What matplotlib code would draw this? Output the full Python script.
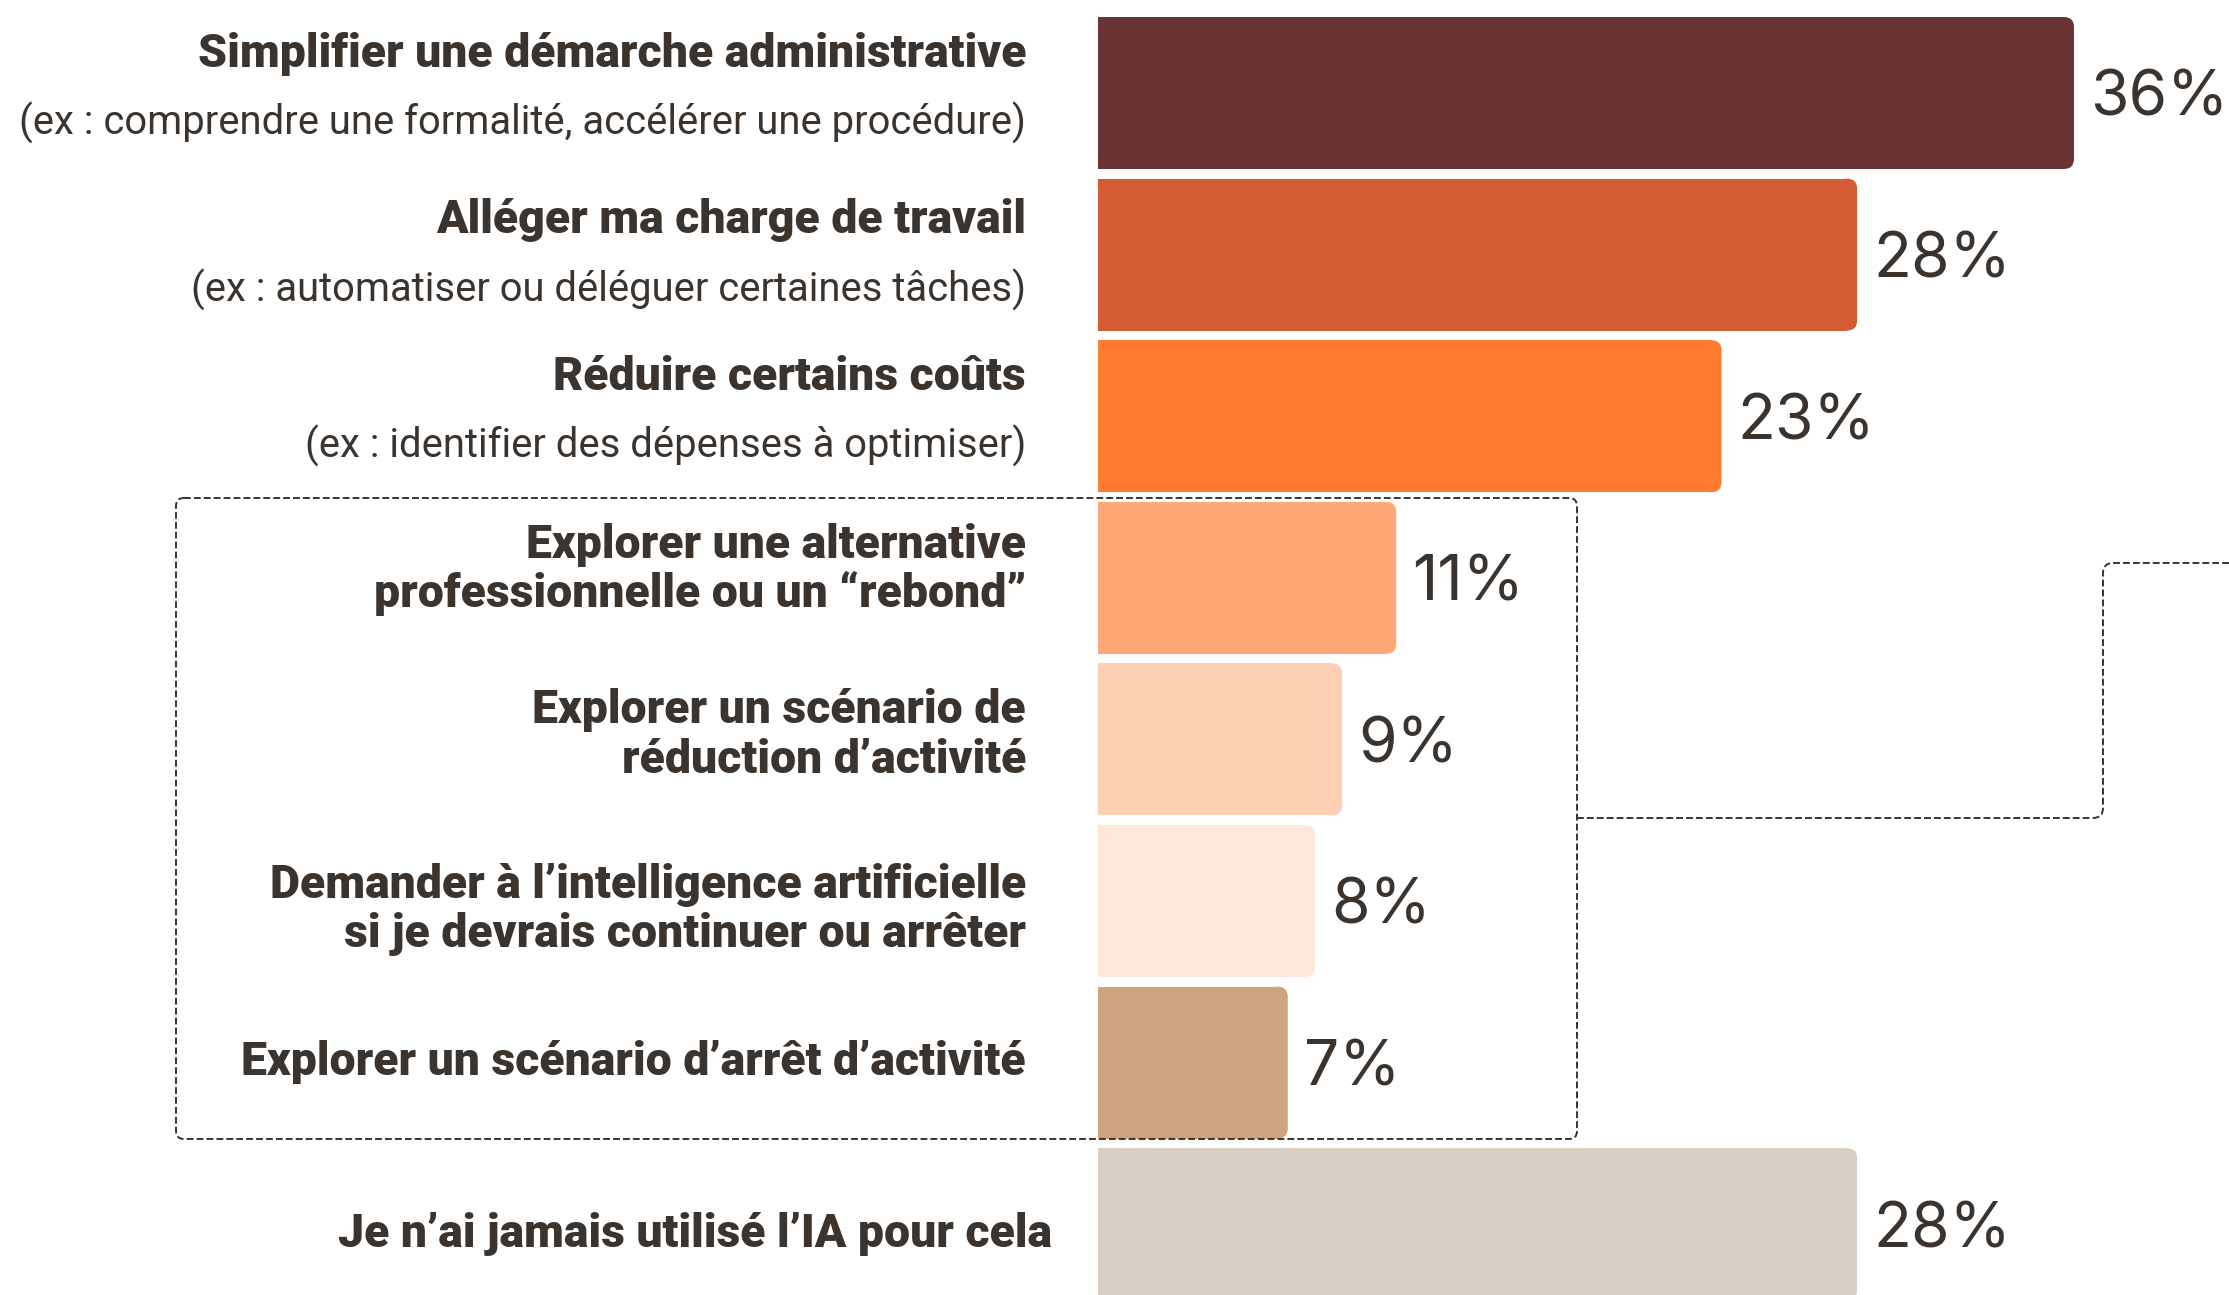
import matplotlib.pyplot as plt
from matplotlib import font_manager as fm
from matplotlib.patches import FancyBboxPatch, PathPatch
from matplotlib.path import Path

# Data
labels = [
    ["Simplifier une démarche administrative"],
    ["Alléger ma charge de travail"],
    ["Réduire certains coûts"],
    ["Explorer une alternative", "professionnelle ou un “rebond”"],
    ["Explorer un scénario de", "réduction d’activité"],
    ["Demander à l’intelligence artificielle", "si je devrais continuer ou arrêter"],
    ["Explorer un scénario d’arrêt d’activité"],
    ["Je n’ai jamais utilisé l’IA pour cela"],
]
sublabels = [
    "(ex : comprendre une formalité, accélérer une procédure)",
    "(ex : automatiser ou déléguer certaines tâches)",
    "(ex : identifier des dépenses à optimiser)",
    None, None, None, None, None,
]
values = [36, 28, 23, 11, 9, 8, 7, 28]
colors = ["#693334", "#D35C35", "#FF7C30", "#FFA777",
          "#FFCFB4", "#FFE6DA", "#CEA37D", "#D8CEC4"]

TEXT = "#3B332D"

# Layout (pixels)
W, H = 2229, 1295
X0 = 1098          # bar origin
PX_PCT = 27.11     # pixels per percent
ROW0 = 93          # center of first bar
PITCH = 161.6      # row pitch
BAR_H = 152 / PITCH
# baseline offsets of label lines from the bar centre (px)
line_offsets = [(-26, 42), (-22, 47), (-26, 41), (-20, 29), (-16, 34),
                (-3, 46), (12,), (23,)]


def pick(*names):
    for n in names:
        try:
            fm.findfont(fm.FontProperties(family=n), fallback_to_default=False)
            return n
        except ValueError:
            pass
    return "DejaVu Sans"


bold_font = pick("Liberation Sans Narrow", "Roboto", "Inter")
light_font = pick("Roboto", "Inter", "Lato")
num_font = pick("Inter", "Roboto")

fig = plt.figure(figsize=(W / 100, H / 100), dpi=100)
ax = fig.add_axes([0, 0, 1, 1])
ax.set_xlim(-X0 / PX_PCT, (W - X0) / PX_PCT)
ax.set_ylim((H - ROW0) / PITCH, -ROW0 / PITCH)
ax.axis("off")


def dx(px):
    return (px - X0) / PX_PCT


def dy(py):
    return (py - ROW0) / PITCH


renderer = fig.canvas.get_renderer()


def fit(text, target, **kw):
    t = ax.text(0, 0, text, fontsize=20, **kw)
    w = t.get_window_extent(renderer).width
    t.remove()
    return 20 * target / w


bold_size = fit(labels[0][0], 830, family=bold_font, weight="heavy")
sub_size = fit(sublabels[0], 1005, family=light_font, weight="normal")
pct_size = fit("36%", 138, family=num_font)

# bars with rounded right ends
r = 10 / PX_PCT
aspect = PX_PCT / PITCH
idx = list(range(len(values)))
ax.barh(idx, [v - r for v in values], height=BAR_H, color=colors, linewidth=0)
for i, (v, c) in enumerate(zip(values, colors)):
    ax.add_patch(FancyBboxPatch((v - 2 * r, i - BAR_H / 2), 2 * r, BAR_H,
                                boxstyle=f"round,pad=0,rounding_size={r}",
                                mutation_aspect=aspect, color=c, lw=0))
    ax.text(v + 16 / PX_PCT, i + 23 / PITCH, f"{v}%", family=num_font,
            fontsize=pct_size, color=TEXT, ha="left", va="baseline")

# category labels
for i, lines in enumerate(labels):
    offs = line_offsets[i]
    xr = dx(1052) if i == len(labels) - 1 else dx(1026)
    for j, line in enumerate(lines):
        ax.text(xr, i + offs[j] / PITCH, line, family=bold_font, weight="heavy",
                fontsize=bold_size, color=TEXT, ha="right", va="baseline")
    if sublabels[i]:
        ax.text(xr, i + offs[1] / PITCH, sublabels[i], family=light_font,
                weight="normal", fontsize=sub_size, color=TEXT,
                ha="right", va="baseline")

# dashed group box
dash = (0, (3.5, 1.6))
rb = 8 / PX_PCT
ax.add_patch(FancyBboxPatch((dx(176), dy(498)), dx(1577) - dx(176), dy(1139) - dy(498),
                            boxstyle=f"round,pad=0,rounding_size={rb}",
                            mutation_aspect=aspect, fill=False, ec=TEXT,
                            lw=1.4, linestyle=dash, clip_on=False))

# connector to the right
cr = 10
verts = [(dx(1577), dy(818)), (dx(2103 - cr), dy(818)),
         (dx(2103), dy(818)), (dx(2103), dy(818 - cr)),
         (dx(2103), dy(563 + cr)),
         (dx(2103), dy(563)), (dx(2103 + cr), dy(563)),
         (dx(W + 5), dy(563))]
codes = [Path.MOVETO, Path.LINETO, Path.CURVE3, Path.CURVE3, Path.LINETO,
         Path.CURVE3, Path.CURVE3, Path.LINETO]
ax.add_patch(PathPatch(Path(verts, codes), fill=False, ec=TEXT, lw=1.4,
                       linestyle=dash, clip_on=False))

fig.savefig("out.png", dpi=100, facecolor="white")
